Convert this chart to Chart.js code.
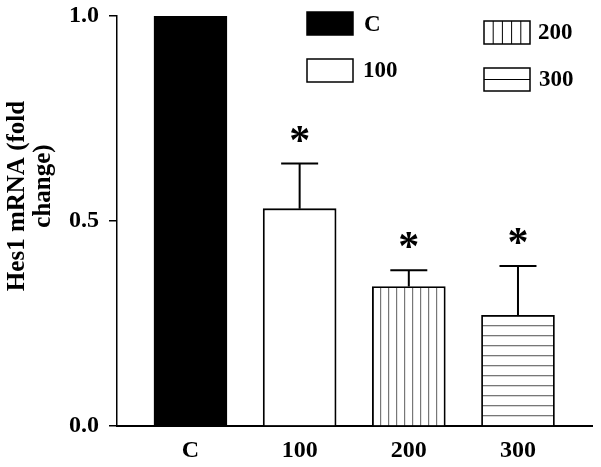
<!DOCTYPE html>
<html><head><meta charset="utf-8">
<script src="https://cdn.jsdelivr.net/npm/chart.js@4/dist/chart.umd.min.js"></script>
<style>html,body{margin:0;padding:0;background:#fff;overflow:hidden}#wrap{width:601px;height:467px;position:relative}canvas{display:block}</style>
</head><body><div id="wrap"><canvas id="c" width="601" height="467" style="width:601px;height:467px"></canvas></div>
<script>
const categories = ['C', '100', '200', '300'];
const values = [1.0, 0.53, 0.34, 0.27];
const errors = [0, 0.11, 0.04, 0.12];
const significant = [false, true, true, true];
const yTicks = [0, 0.5, 1.0];
const titleLines = ['Hes1 mRNA (fold', 'change)'];

const FONT = '"Liberation Serif", "Times New Roman", serif';

function makePattern(kind) {
  const c = document.createElement('canvas');
  const g = c.getContext('2d');
  if (kind === 'v') {
    c.width = 8; c.height = 8;
    g.fillStyle = '#fff'; g.fillRect(0, 0, 8, 8);
    g.fillStyle = '#777'; g.fillRect(4, 0, 1.2, 8);
  } else {
    c.width = 10; c.height = 10;
    g.fillStyle = '#fff'; g.fillRect(0, 0, 10, 10);
    g.fillStyle = '#777'; g.fillRect(0, 5, 10, 1.3);
  }
  return g.createPattern(c, 'repeat');
}
const fills = ['#000', '#fff', makePattern('v'), makePattern('h')];

const errPlugin = {
  id: 'errs',
  afterDatasetsDraw(chart) {
    const ctx = chart.ctx, ys = chart.scales.y;
    const meta = chart.getDatasetMeta(0);
    ctx.save();
    ctx.strokeStyle = '#000'; ctx.lineWidth = 2;
    meta.data.forEach((bar, i) => {
      const e = errors[i];
      const x = bar.x;
      const yb = ys.getPixelForValue(values[i]);
      const yt = ys.getPixelForValue(values[i] + e);
      if (e > 0) {
        ctx.beginPath();
        ctx.moveTo(x, yb); ctx.lineTo(x, yt);
        ctx.moveTo(x - 18.5, yt); ctx.lineTo(x + 18.5, yt);
        ctx.stroke();
      }
      if (significant[i]) {
        ctx.font = 'bold 42px ' + FONT;
        ctx.fillStyle = '#000';
        ctx.textAlign = 'center';
        ctx.textBaseline = 'alphabetic';
        const m = ctx.measureText('*');
        const cy = yt - 30;
        ctx.fillText('*', x, cy + (m.actualBoundingBoxAscent - m.actualBoundingBoxDescent) / 2);
      }
    });
    ctx.restore();
  }
};

const decorPlugin = {
  id: 'decor',
  afterDraw(chart) {
    const ctx = chart.ctx;
    ctx.save();
    ctx.fillStyle = '#000';
    ctx.font = 'bold 25px ' + FONT;
    ctx.textAlign = 'center';
    ctx.textBaseline = 'middle';
    ctx.save(); ctx.translate(18, 196); ctx.rotate(-Math.PI / 2); ctx.fillText(titleLines[0], 0, 0); ctx.restore();
    ctx.save(); ctx.translate(44, 186); ctx.rotate(-Math.PI / 2); ctx.fillText(titleLines[1], 0, 0); ctx.restore();
    const boxes = [
      {x: 307, y: 12, label: categories[0], lx: 364, ly: 24},
      {x: 307, y: 59, label: categories[1], lx: 363, ly: 70},
      {x: 484, y: 21, label: categories[2], lx: 538, ly: 32},
      {x: 484, y: 68, label: categories[3], lx: 539, ly: 79}
    ];
    const bw = 46, bh = 23;
    boxes.forEach((b, i) => {
      ctx.fillStyle = i === 0 ? '#000' : '#fff';
      ctx.fillRect(b.x, b.y, bw, bh);
      ctx.strokeStyle = '#000'; ctx.lineWidth = 1.5;
      if (i === 2) {
        ctx.beginPath();
        for (let k = 1; k <= 4; k++) { const lx = b.x + k * bw / 5; ctx.moveTo(lx, b.y); ctx.lineTo(lx, b.y + bh); }
        ctx.lineWidth = 1; ctx.stroke(); ctx.lineWidth = 1.5;
      }
      if (i === 3) {
        ctx.beginPath(); ctx.moveTo(b.x, b.y + bh / 2); ctx.lineTo(b.x + bw, b.y + bh / 2);
        ctx.lineWidth = 1; ctx.stroke(); ctx.lineWidth = 1.5;
      }
      ctx.strokeRect(b.x, b.y, bw, bh);
      ctx.fillStyle = '#000';
      ctx.font = 'bold 23px ' + FONT;
      ctx.textAlign = 'left'; ctx.textBaseline = 'middle';
      ctx.fillText(b.label, b.lx, b.ly + 1);
    });
    ctx.restore();
  }
};

new Chart(document.getElementById('c'), {
  type: 'bar',
  data: {
    datasets: [{
      data: values.map((v, i) => ({x: i, y: v})),
      backgroundColor: fills,
      borderColor: '#000',
      borderWidth: 1.8,
      barThickness: 73
    }]
  },
  options: {
    responsive: false,
    animation: false,
    devicePixelRatio: 1,
    layout: {padding: {top: 16, right: 9, left: 0, bottom: 0}},
    plugins: {legend: {display: false}, tooltip: {enabled: false}},
    scales: {
      x: {
        type: 'linear',
        offset: false,
        min: -0.673, max: 3.678,
        afterBuildTicks(s) { s.ticks = categories.map((c, i) => ({value: i})); },
        afterFit(s) { s.height = 41; s.paddingLeft = 0; s.paddingRight = 0; },
        grid: {display: false, drawTicks: false, offset: false},
        border: {display: true, color: '#000', width: 2},
        ticks: {
          padding: 10,
          color: '#000',
          font: {family: FONT, size: 24, weight: 'bold'},
          callback: (v) => categories[v],
          maxRotation: 0, autoSkip: false
        }
      },
      y: {
        min: 0, max: 1,
        afterBuildTicks(s) { s.ticks = yTicks.map(v => ({value: v})); },
        afterFit(s) { s.width = 117; s.paddingTop = 0; s.paddingBottom = 0; },
        grid: {drawOnChartArea: false, drawTicks: true, tickLength: 8, color: '#000', lineWidth: 1.5},
        border: {display: true, color: '#000', width: 1.5},
        ticks: {
          padding: 10,
          color: '#000',
          font: {family: FONT, size: 24, weight: 'bold'},
          callback: (v) => Number(v).toFixed(1)
        }
      }
    }
  },
  plugins: [errPlugin, decorPlugin]
});
</script>
</body></html>
